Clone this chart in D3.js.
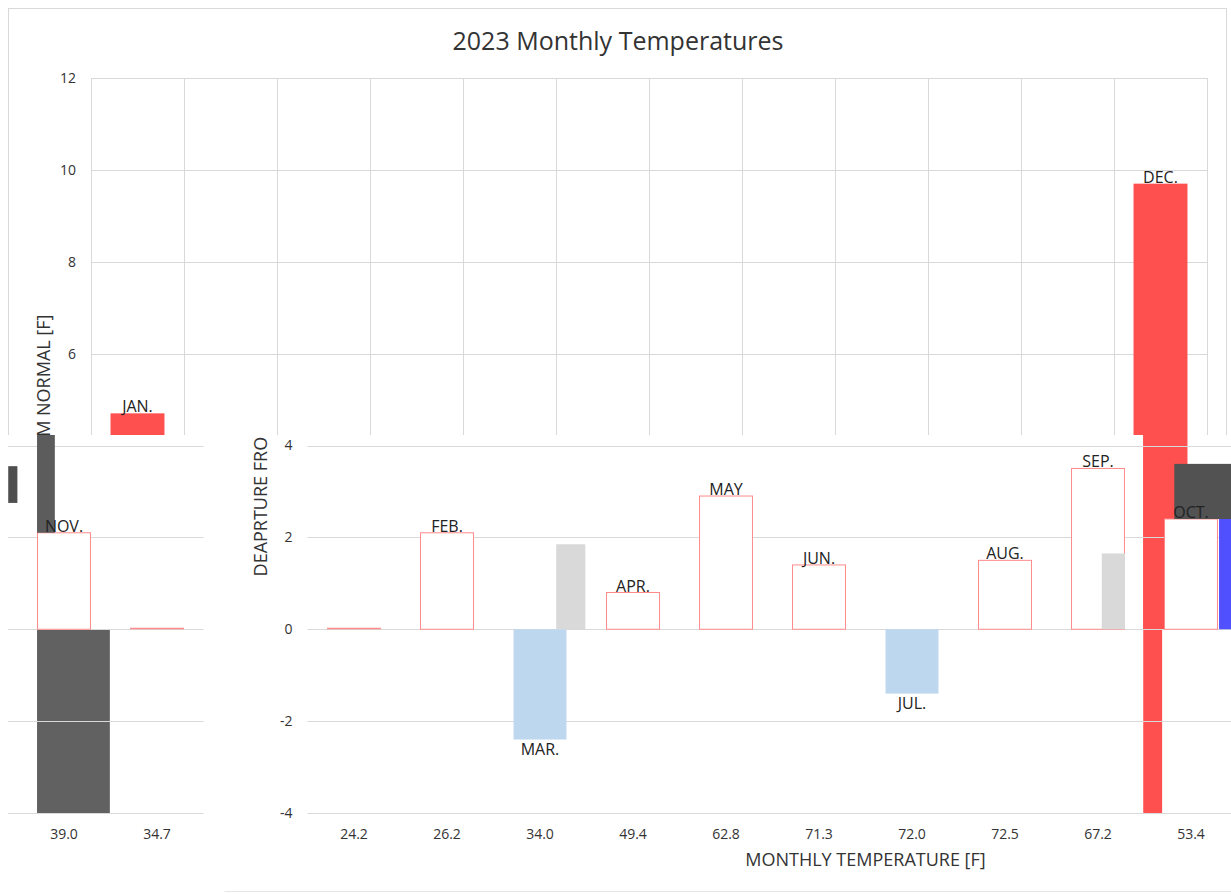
<!DOCTYPE html>
<html><head><meta charset="utf-8">
<script src="https://cdn.jsdelivr.net/npm/d3@7"></script>
<style>body{margin:0;background:#fff;} svg{display:block;font-family:"Open Sans",sans-serif;}</style>
</head><body><svg id="c" width="1231" height="894"></svg>
<script>
// ---------- data ----------
const months = ["JAN.","FEB.","MAR.","APR.","MAY","JUN.","JUL.","AUG.","SEP.","OCT.","NOV.","DEC."];
const monthlyTemp = ["24.2","26.2","34.0","49.4","62.8","71.3","72.0","72.5","67.2","53.4","39.0","34.7"];
const departure = [4.7, 2.1, -2.4, 0.8, 2.9, 1.4, -1.4, 1.5, 3.5, 2.4, 2.1, 9.7];
// values as they appear in the corrupted lower band of the picture
const departureLowerBand = [0, 2.1, -2.4, 0.8, 2.9, 1.4, -1.4, 1.5, 3.5, 2.4, 2.1, 0];
const yTicks = [-4, -2, 0, 2, 4, 6, 8, 10, 12];
const chartTitle = "2023 Monthly Temperatures";
const xTitle = "MONTHLY TEMPERATURE [F]";
const yTitle = "DEAPRTURE FROM NORMAL [F]";
// glitch artifacts (month, value range, fraction of bar width, frame)
const artifactsLeak = [
  {month:"DEC.", v0:-4, v1:9.7, f0:0.18, f1:0.53},
  {month:"DEC.", v0:0, v1:9.7, f0:0.18, f1:1.0}
];
const artifactsUnder = [
  {month:"NOV.", v0:-4, v1:0, f0:0, f1:1.35, c:"#616161", frame:"left"}
];
const artifactsOver = [
  {month:"MAR.", v0:0, v1:1.85, f0:0.8, f1:1.34, c:"#d9d9d9", frame:"main"},
  {month:"SEP.", v0:0, v1:1.65, f0:0.57, f1:1.0, c:"#d9d9d9", frame:"main"},
  {month:"OCT.", v0:2.4, v1:3.6, f0:0.19, f1:1.3, c:"#525252", frame:"main"},
  {month:"OCT.", v0:0, v1:2.4, f0:1.02, f1:1.3, c:"#5050ff", frame:"main"},
  {month:"NOV.", v0:2.1, v1:4.45, f0:0, f1:0.33, c:"#5c5c5c", frame:"left"},
  {month:"OCT.", v0:2.75, v1:3.55, f0:1.19, f1:1.36, c:"#4f4f4f", frame:"left"}
];

// ---------- scales ----------
const W = 1231, H = 894, CUT = 435;
const x = d3.scaleBand().domain(months).range([91, 1207]).paddingInner(0.42).paddingOuter(0.21);
const y = d3.scaleLinear().domain([-4, 12]).range([813, 78]);
const bw = x.bandwidth();
const edges = d3.range(months.length + 1).map(i => x.range()[0] + i * x.step());
const svg = d3.select("#c");
const defs = svg.append("defs");
function clip(id, x0, y0, w, h) {
  defs.append("clipPath").attr("id", id).append("rect").attr("x", x0).attr("y", y0).attr("width", w).attr("height", h);
  return svg.append("g").attr("clip-path", `url(#${id})`);
}
const txt = "#333";
const grid = "#d9d9d9";

function artRects(g, arr, color) {
  g.selectAll(null).data(arr).join("rect")
    .attr("x", d => x(d.month) + d.f0 * bw)
    .attr("width", d => (d.f1 - d.f0) * bw)
    .attr("y", d => y(d.v1))
    .attr("height", d => y(d.v0) - y(d.v1))
    .attr("fill", d => d.c || color);
}

// ---------- upper (intact) band ----------
const up = clip("cu", 0, 0, W, CUT);
up.append("rect").attr("x", 8.5).attr("y", 8.5).attr("width", 1218).attr("height", 883)
  .attr("fill", "#fff").attr("stroke", grid);
up.append("text").attr("x", 618).attr("y", 50).attr("text-anchor", "middle")
  .attr("font-size", 25).attr("fill", txt).text(chartTitle);
up.selectAll(".hg").data(yTicks).join("line")
  .attr("x1", x.range()[0]).attr("x2", x.range()[1])
  .attr("y1", d => Math.round(y(d)) + 0.5).attr("y2", d => Math.round(y(d)) + 0.5)
  .attr("stroke", grid);
up.selectAll(".vg").data(edges).join("line")
  .attr("x1", d => Math.round(d) + 0.5).attr("x2", d => Math.round(d) + 0.5)
  .attr("y1", y(12)).attr("y2", y(-4)).attr("stroke", grid);
up.selectAll(".yt").data(yTicks.filter(t => y(t) < CUT - 8)).join("text")
  .attr("x", 76).attr("y", d => y(d)).attr("dy", "0.35em").attr("text-anchor", "end")
  .attr("font-size", 14).attr("fill", txt).text(d => d);
up.append("text").attr("transform", `translate(44,${(y(12) + y(-4)) / 2}) rotate(-90)`)
  .attr("text-anchor", "middle").attr("dy", "0.35em").attr("font-size", 18).attr("fill", txt).text(yTitle);
up.selectAll(".bar").data(months).join("rect")
  .attr("x", d => x(d)).attr("width", bw)
  .attr("y", (d, i) => y(Math.max(0, departure[i])))
  .attr("height", (d, i) => Math.abs(y(departure[i]) - y(0)))
  .attr("fill", (d, i) => departure[i] >= 0 ? "#ff5050" : "#bdd7ee");
up.selectAll(".lbl").data(months.filter((d, i) => departure[i] >= 0 && y(departure[i]) < CUT)).join("text")
  .attr("x", d => x(d) + bw / 2)
  .attr("y", d => y(departure[months.indexOf(d)]) - 1)
  .attr("text-anchor", "middle").attr("font-size", 16).attr("fill", "#222").text(d => d);

// ---------- lower (shifted) band ----------
function lowerFrame(name, cx0, cx1, dx, leak) {
  const g = clip("cl" + name, cx0, CUT, cx1 - cx0, H - CUT);
  const inView = sx => sx > cx0 + 2 && sx < cx1 - 2;
  g.append("rect").attr("x", 0).attr("y", CUT).attr("width", W).attr("height", H - CUT).attr("fill", "#fff");
  if (leak) artRects(g, artifactsLeak, "#ff5050");
  const f = g.append("g").attr("transform", `translate(${dx},0)`);
  artRects(f, artifactsUnder.filter(a => a.frame === name));
  f.selectAll(".hg").data(yTicks.filter(t => t <= 4)).join("line")
    .attr("x1", x.range()[0]).attr("x2", x.range()[1])
    .attr("y1", d => Math.round(y(d)) + 0.5).attr("y2", d => Math.round(y(d)) + 0.5)
    .attr("stroke", grid);
  if (name === "main")
    f.append("line").attr("x1", 8).attr("x2", 1227).attr("y1", 891.5).attr("y2", 891.5).attr("stroke", "#e6e6e6");
  const nz = months.filter((d, i) => departureLowerBand[i] !== 0);
  const zr = months.filter((d, i) => departureLowerBand[i] === 0);
  f.selectAll(".bar").data(nz).join("rect")
    .attr("x", d => x(d) + 0.5).attr("width", bw - 1)
    .attr("y", d => y(Math.max(0, departureLowerBand[months.indexOf(d)])))
    .attr("height", d => Math.abs(y(departureLowerBand[months.indexOf(d)]) - y(0)))
    .attr("fill", d => departureLowerBand[months.indexOf(d)] >= 0 ? "#fff" : "#bdd7ee")
    .attr("stroke", d => departureLowerBand[months.indexOf(d)] >= 0 ? "#ff8a8a" : "none");
  f.selectAll(".zbar").data(zr).join("line")
    .attr("x1", d => x(d)).attr("x2", d => x(d) + bw)
    .attr("y1", Math.round(y(0)) - 0.5).attr("y2", Math.round(y(0)) - 0.5)
    .attr("stroke", "#ff8a8a").attr("stroke-width", 1.5);
  artRects(f, artifactsOver.filter(a => a.frame === name));
  f.selectAll(".yt").data(yTicks.filter(t => t <= 4 && inView(76 + dx))).join("text")
    .attr("x", 76).attr("y", d => y(d)).attr("dy", "0.35em").attr("text-anchor", "end")
    .attr("font-size", 14).attr("fill", txt).text(d => d);
  if (inView(44 + dx))
    f.append("text").attr("transform", `translate(44,${(y(12) + y(-4)) / 2}) rotate(-90)`)
      .attr("text-anchor", "middle").attr("dy", "0.35em").attr("font-size", 18).attr("fill", txt).text(yTitle);
  f.selectAll(".lbl").data(nz.filter(d => inView(x(d) + bw / 2 + dx))).join("text")
    .attr("x", d => x(d) + bw / 2)
    .attr("y", d => { const v = departureLowerBand[months.indexOf(d)]; return v >= 0 ? y(v) - 1 : y(v) + 15; })
    .attr("text-anchor", "middle").attr("font-size", 16).attr("fill", "#222").text(d => d);
  f.selectAll(".xt").data(months.filter(d => inView(x(d) + bw / 2 + dx))).join("text")
    .attr("x", d => x(d) + bw / 2).attr("y", 839).attr("text-anchor", "middle")
    .attr("font-size", 14).attr("fill", txt).text(d => monthlyTemp[months.indexOf(d)]);
  if (inView((x.range()[0] + x.range()[1]) / 2 + dx))
    f.append("text").attr("x", (x.range()[0] + x.range()[1]) / 2).attr("y", 866)
      .attr("text-anchor", "middle").attr("font-size", 18).attr("fill", txt).text(xTitle);
}
const shift = 216.5;
lowerFrame("main", 205, W, shift, true);
lowerFrame("left", 8, 205, shift - 1220, false);
</script></body></html>
